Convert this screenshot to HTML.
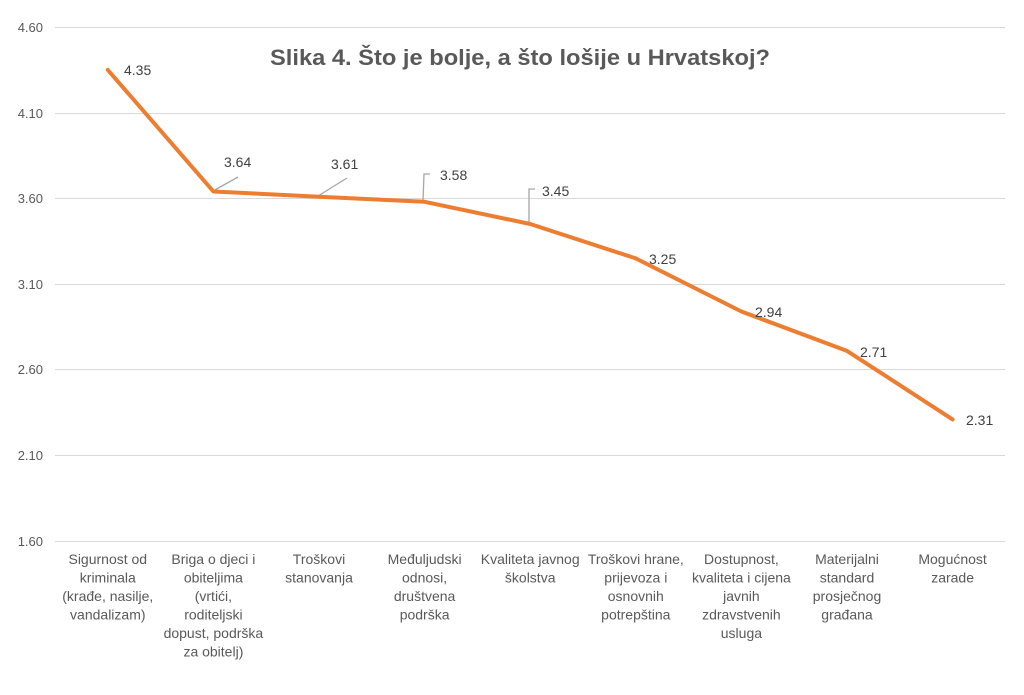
<!DOCTYPE html>
<html><head><meta charset="utf-8"><style>
body{margin:0;background:#fff}
svg{display:block;font-family:"Liberation Sans",sans-serif}
</style></head><body>
<svg width="1024" height="695" viewBox="0 0 1024 695">
<rect width="1024" height="695" fill="#fff"/>
<g stroke="#d9d9d9" stroke-width="1">
<line x1="55" x2="1005" y1="27.5" y2="27.5"/>
<line x1="55" x2="1005" y1="113.5" y2="113.5"/>
<line x1="55" x2="1005" y1="198.5" y2="198.5"/>
<line x1="55" x2="1005" y1="284.5" y2="284.5"/>
<line x1="55" x2="1005" y1="369.5" y2="369.5"/>
<line x1="55" x2="1005" y1="455.5" y2="455.5"/>
<line x1="55" x2="1005" y1="541.5" y2="541.5"/>
</g>
<g fill="#595959" font-size="13" text-anchor="end">
<text x="43" y="32">4.60</text>
<text x="43" y="118">4.10</text>
<text x="43" y="203">3.60</text>
<text x="43" y="289">3.10</text>
<text x="43" y="374">2.60</text>
<text x="43" y="460">2.10</text>
<text x="43" y="546">1.60</text>
</g>
<text x="270" y="65" font-size="22" font-weight="bold" fill="#595959" textLength="500" lengthAdjust="spacingAndGlyphs">Slika 4. Što je bolje, a što lošije u Hrvatskoj?</text>
<g stroke="#a6a6a6" stroke-width="1.3" fill="none">
<line x1="213" y1="191" x2="238" y2="177"/>
<line x1="318" y1="196" x2="347" y2="178"/>
<polyline points="423,201 424,174 430,174"/>
<polyline points="529,224 529,189 535,189"/>
</g>
<polyline fill="none" stroke="#ed7d31" stroke-width="4" stroke-linejoin="round" stroke-linecap="round"
points="107.8,69.9 213.4,191.5 319,196.7 424.6,201.8 530.2,224 635.8,258.4 741.4,311.5 847,350.9 952.6,419.4"/>
<g fill="#404040" font-size="14">
<text x="124" y="75">4.35</text>
<text x="224" y="167">3.64</text>
<text x="331" y="169">3.61</text>
<text x="440" y="180">3.58</text>
<text x="542" y="196">3.45</text>
<text x="649" y="264">3.25</text>
<text x="755" y="317">2.94</text>
<text x="860" y="357">2.71</text>
<text x="966" y="425">2.31</text>
</g>
<g fill="#595959" font-size="14" text-anchor="middle">
<text x="107.8" y="564"><tspan x="107.8">Sigurnost od</tspan><tspan x="107.8" dy="18.5">kriminala</tspan><tspan x="107.8" dy="18.5">(krađe, nasilje,</tspan><tspan x="107.8" dy="18.5">vandalizam)</tspan></text>
<text x="213.4" y="564"><tspan x="213.4">Briga o djeci i</tspan><tspan x="213.4" dy="18.5">obiteljima</tspan><tspan x="213.4" dy="18.5">(vrtići,</tspan><tspan x="213.4" dy="18.5">roditeljski</tspan><tspan x="213.4" dy="18.5">dopust, podrška</tspan><tspan x="213.4" dy="18.5">za obitelj)</tspan></text>
<text x="319" y="564"><tspan x="319">Troškovi</tspan><tspan x="319" dy="18.5">stanovanja</tspan></text>
<text x="424.6" y="564"><tspan x="424.6">Međuljudski</tspan><tspan x="424.6" dy="18.5">odnosi,</tspan><tspan x="424.6" dy="18.5">društvena</tspan><tspan x="424.6" dy="18.5">podrška</tspan></text>
<text x="530.2" y="564"><tspan x="530.2">Kvaliteta javnog</tspan><tspan x="530.2" dy="18.5">školstva</tspan></text>
<text x="635.8" y="564"><tspan x="635.8">Troškovi hrane,</tspan><tspan x="635.8" dy="18.5">prijevoza i</tspan><tspan x="635.8" dy="18.5">osnovnih</tspan><tspan x="635.8" dy="18.5">potrepština</tspan></text>
<text x="741.4" y="564"><tspan x="741.4">Dostupnost,</tspan><tspan x="741.4" dy="18.5">kvaliteta i cijena</tspan><tspan x="741.4" dy="18.5">javnih</tspan><tspan x="741.4" dy="18.5">zdravstvenih</tspan><tspan x="741.4" dy="18.5">usluga</tspan></text>
<text x="847" y="564"><tspan x="847">Materijalni</tspan><tspan x="847" dy="18.5">standard</tspan><tspan x="847" dy="18.5">prosječnog</tspan><tspan x="847" dy="18.5">građana</tspan></text>
<text x="952.6" y="564"><tspan x="952.6">Mogućnost</tspan><tspan x="952.6" dy="18.5">zarade</tspan></text>
</g>
</svg>
</body></html>
